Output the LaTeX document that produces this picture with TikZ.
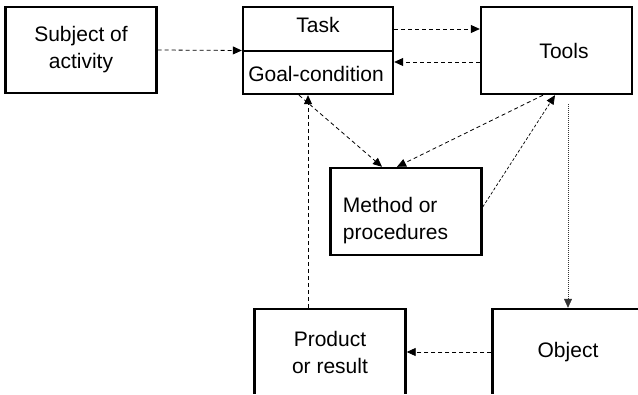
\documentclass[tikz,border=0pt]{standalone}
\usepackage{fontspec}
\setmainfont{Liberation Sans}
\usetikzlibrary{arrows.meta,calc}
\begin{document}
\begin{tikzpicture}[x=1pt,y=-1pt,
  box/.style={draw=black,line width=2.4pt,minimum width=151pt,minimum height=86pt,inner sep=0pt,align=center,font=\fontsize{21}{27}\selectfont},
  txt/.style={inner sep=0pt,font=\fontsize{21}{27}\selectfont},
  conn/.style={line width=0.8pt,dash pattern=on 4pt off 3pt,-{Triangle[length=9pt,width=8pt]}},
  fine/.style={line width=0.7pt,dash pattern=on 3pt off 2pt,-{Triangle[length=9pt,width=8pt]}},
  dots/.style={line width=0.5pt,draw=black!80,dash pattern=on 1pt off 1pt,-{Triangle[length=9pt,width=8pt]}}]
\useasboundingbox (0,0) rectangle (638,395);
\clip (0,0) rectangle (638,393.4);
\node[box] (subj) at (81,50) {Subject of\\activity};
\node[box,minimum height=87pt,minimum width=150pt] (task) at (318,50.5) {};
\draw[line width=1.6pt] ([yshift=-0.5pt]task.west) -- ([yshift=-0.5pt]task.east);
\node[txt] (tasklbl) at (318,24.5) {Task};
\node[txt] (goal) at (316,73.5) {Goal-condition};
\node[box,minimum height=87pt] (tools) at (556.5,50.5) {\hspace*{15pt}Tools};
\node[box,minimum height=87pt,align=left] (method) at (406,211.5) {\rule{0pt}{33pt}Method or\\procedures\hspace*{21pt}};
\node[box] (product) at (330,352) {Product\\or result};
\node[box] (object) at (568,352) {Object};
% connectors
\draw[conn] (subj.east) -- (task.west);
\draw[conn] ([yshift=21.5pt]task.east) -- ([yshift=21.5pt]tools.west);
\draw[conn] ([yshift=-11.5pt]tools.west) -- ([yshift=-11.5pt]task.east);
\draw[conn] ([xshift=-19pt]task.south) -- ([xshift=-24pt]method.north);
\draw[conn] ([xshift=-13.5pt]tools.south) -- ([xshift=-9pt]method.north);
\draw[fine] ([yshift=4.5pt]method.east) -- ([xshift=-1.5pt]tools.south);
\draw[dots] ([xshift=11.5pt,yshift=-9pt]tools.south) -- (object.north);
\draw[conn] (object.west) -- (product.east);
\draw[conn] ([xshift=-22pt]product.north) -- ([xshift=-22pt]product.north |- task.south);
\end{tikzpicture}
\end{document}
